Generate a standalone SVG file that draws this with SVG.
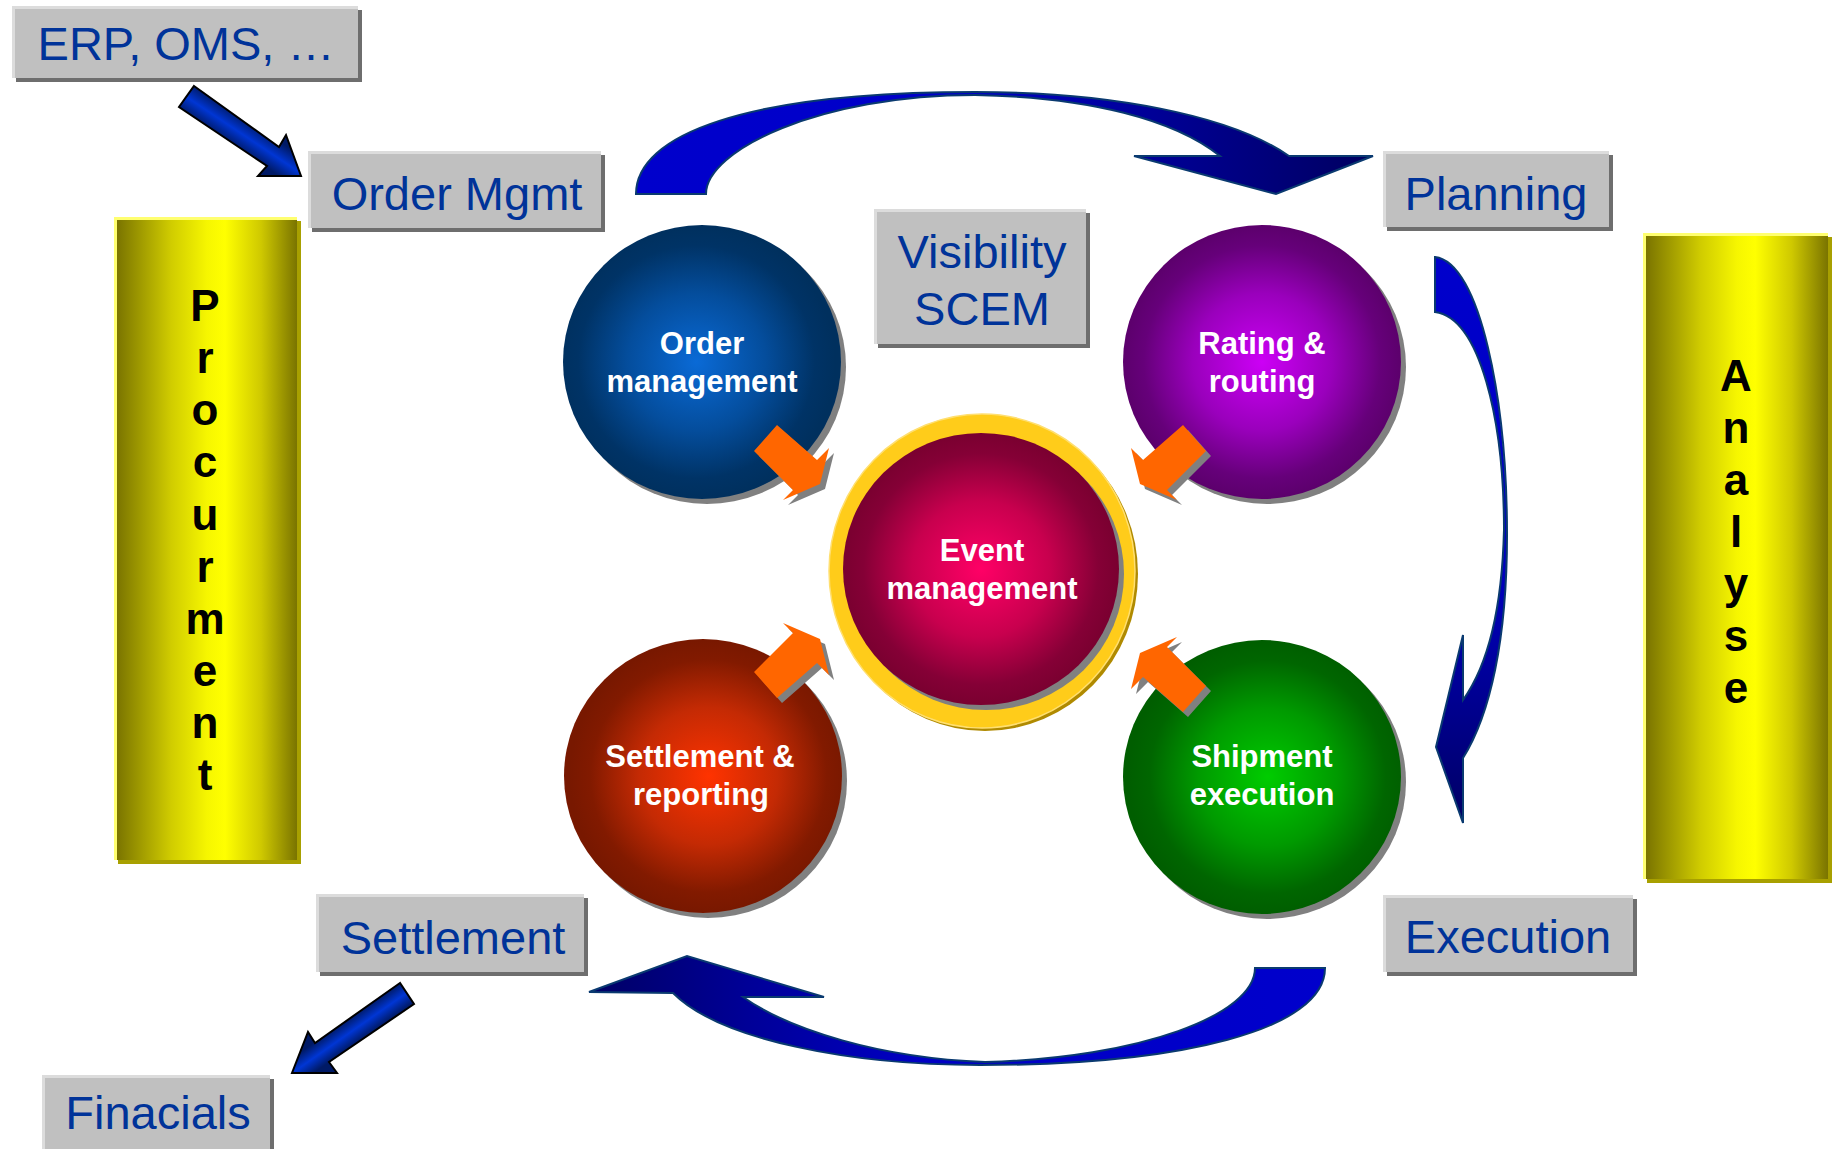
<svg xmlns="http://www.w3.org/2000/svg" width="1839" height="1149" viewBox="0 0 1839 1149">
<defs>
<style>
.bsh{fill:#6e6e6e}
.bhi{fill:#dcdcdc}
.bfc{fill:#c0c0c0}
.btx{font-family:"Liberation Sans",Arial,sans-serif;font-size:47px;fill:#003399;text-anchor:middle}
.ysh{fill:#a8a000}
.yhi{fill:#ffff70}
.ylt{font-family:"Liberation Sans",Arial,sans-serif;font-size:44px;font-weight:bold;fill:#000;text-anchor:middle}
.csh{fill:#808080}
.ctx{font-family:"Liberation Sans",Arial,sans-serif;font-size:31px;font-weight:bold;fill:#fff;text-anchor:middle}
.oar{fill:#ff6600}
.osh{fill:#808080}
.cur{stroke:#0a3a70;stroke-width:2;stroke-linejoin:miter}
.sar{stroke:#000;stroke-width:2;stroke-linejoin:miter}
</style>
<linearGradient id="yg" x1="0" y1="0" x2="1" y2="0">
<stop offset="0" stop-color="#7a7400"/>
<stop offset="0.3" stop-color="#d0cc00"/>
<stop offset="0.5" stop-color="#f6f600"/>
<stop offset="0.6" stop-color="#ffff00"/>
<stop offset="0.8" stop-color="#cfc900"/>
<stop offset="1" stop-color="#7a7400"/>
</linearGradient>
<radialGradient id="gBlue" cx="0.48" cy="0.5" r="0.5">
<stop offset="0" stop-color="#0a6ad6"/>
<stop offset="0.5" stop-color="#044d9c"/>
<stop offset="0.85" stop-color="#003366"/>
<stop offset="1" stop-color="#00305e"/>
</radialGradient>
<radialGradient id="gPurple" cx="0.5" cy="0.5" r="0.5">
<stop offset="0" stop-color="#cc00f5"/>
<stop offset="0.5" stop-color="#9a00bc"/>
<stop offset="0.85" stop-color="#66007a"/>
<stop offset="1" stop-color="#5c006c"/>
</radialGradient>
<radialGradient id="gEvent" cx="0.5" cy="0.5" r="0.5">
<stop offset="0" stop-color="#ff0066"/>
<stop offset="0.5" stop-color="#c8004e"/>
<stop offset="0.85" stop-color="#850036"/>
<stop offset="1" stop-color="#7a0030"/>
</radialGradient>
<radialGradient id="gRed" cx="0.52" cy="0.5" r="0.5">
<stop offset="0" stop-color="#ff3300"/>
<stop offset="0.5" stop-color="#c42a04"/>
<stop offset="0.85" stop-color="#821a00"/>
<stop offset="1" stop-color="#781800"/>
</radialGradient>
<radialGradient id="gGreen" cx="0.52" cy="0.5" r="0.5">
<stop offset="0" stop-color="#00cc00"/>
<stop offset="0.5" stop-color="#009a00"/>
<stop offset="0.85" stop-color="#006600"/>
<stop offset="1" stop-color="#005e00"/>
</radialGradient>
<linearGradient id="gTop" gradientUnits="userSpaceOnUse" x1="636" y1="0" x2="1373" y2="0">
<stop offset="0" stop-color="#0000cc"/>
<stop offset="0.45" stop-color="#0000c8"/>
<stop offset="0.65" stop-color="#0000a0"/>
<stop offset="1" stop-color="#000060"/>
</linearGradient>
<linearGradient id="gRight" gradientUnits="userSpaceOnUse" x1="0" y1="257" x2="0" y2="823">
<stop offset="0" stop-color="#0000cc"/>
<stop offset="0.55" stop-color="#0000c0"/>
<stop offset="1" stop-color="#000064"/>
</linearGradient>
<linearGradient id="gBot" gradientUnits="userSpaceOnUse" x1="1325" y1="0" x2="589" y2="0">
<stop offset="0" stop-color="#0000cc"/>
<stop offset="0.55" stop-color="#0000c4"/>
<stop offset="0.78" stop-color="#000098"/>
<stop offset="1" stop-color="#000064"/>
</linearGradient>
<linearGradient id="gErp" gradientUnits="userSpaceOnUse" x1="225" y1="140" x2="241" y2="116">
<stop offset="0" stop-color="#001a66"/>
<stop offset="0.5" stop-color="#0036d4"/>
<stop offset="1" stop-color="#001a66"/>
</linearGradient>
<linearGradient id="gFin" gradientUnits="userSpaceOnUse" x1="358" y1="1012" x2="372" y2="1032">
<stop offset="0" stop-color="#001a66"/>
<stop offset="0.5" stop-color="#0036d4"/>
<stop offset="1" stop-color="#001a66"/>
</linearGradient>
<polygon id="oa" points="777,425 817,460 829,448 820,484 783,500 793,490 754,451"/>
</defs>
<rect x="0" y="0" width="1839" height="1149" fill="#fff"/>

<!-- side bars -->
<g id="procurement">
<rect class="ysh" x="118" y="221" width="183" height="643"/>
<rect class="yhi" x="114" y="217" width="183" height="643"/>
<rect x="117" y="220" width="180" height="640" fill="url(#yg)"/>
<text class="ylt" x="205" y="321">P</text>
<text class="ylt" x="205" y="373">r</text>
<text class="ylt" x="205" y="425">o</text>
<text class="ylt" x="205" y="477">c</text>
<text class="ylt" x="205" y="530">u</text>
<text class="ylt" x="205" y="582">r</text>
<text class="ylt" x="205" y="634">m</text>
<text class="ylt" x="205" y="686">e</text>
<text class="ylt" x="205" y="738">n</text>
<text class="ylt" x="205" y="790">t</text>
</g>
<g id="analyse">
<rect class="ysh" x="1647" y="237" width="185" height="646"/>
<rect class="yhi" x="1643" y="233" width="185" height="646"/>
<rect x="1646" y="236" width="182" height="643" fill="url(#yg)"/>
<text class="ylt" x="1736" y="391">A</text>
<text class="ylt" x="1736" y="443">n</text>
<text class="ylt" x="1736" y="495">a</text>
<text class="ylt" x="1736" y="547">l</text>
<text class="ylt" x="1736" y="599">y</text>
<text class="ylt" x="1736" y="651">s</text>
<text class="ylt" x="1736" y="703">e</text>
</g>

<!-- label boxes -->
<g id="erp">
<rect class="bsh" x="16" y="10" width="346" height="72"/>
<rect class="bhi" x="12" y="6" width="346" height="72"/>
<rect class="bfc" x="15" y="9" width="343" height="69"/>
<text class="btx" x="186" y="60">ERP, OMS, …</text>
</g>
<g id="ordermgmt">
<rect class="bsh" x="312" y="155" width="293" height="77"/>
<rect class="bhi" x="308" y="151" width="293" height="77"/>
<rect class="bfc" x="311" y="154" width="290" height="74"/>
<text class="btx" x="457" y="210">Order Mgmt</text>
</g>
<g id="planning">
<rect class="bsh" x="1387" y="155" width="226" height="76"/>
<rect class="bhi" x="1383" y="151" width="226" height="76"/>
<rect class="bfc" x="1386" y="154" width="223" height="73"/>
<text class="btx" x="1496" y="210">Planning</text>
</g>
<g id="visibility">
<rect class="bsh" x="878" y="213" width="212" height="135"/>
<rect class="bhi" x="874" y="209" width="212" height="135"/>
<rect class="bfc" x="877" y="212" width="209" height="132"/>
<text class="btx" x="982" y="268">Visibility</text>
<text class="btx" x="982" y="325">SCEM</text>
</g>
<g id="settlement">
<rect class="bsh" x="320" y="898" width="268" height="78"/>
<rect class="bhi" x="316" y="894" width="268" height="78"/>
<rect class="bfc" x="319" y="897" width="265" height="75"/>
<text class="btx" x="453" y="954">Settlement</text>
</g>
<g id="execution">
<rect class="bsh" x="1387" y="899" width="250" height="77"/>
<rect class="bhi" x="1383" y="895" width="250" height="77"/>
<rect class="bfc" x="1386" y="898" width="247" height="74"/>
<text class="btx" x="1508" y="953">Execution</text>
</g>
<g id="finacials">
<rect class="bsh" x="46" y="1079" width="228" height="90"/>
<rect class="bhi" x="42" y="1075" width="228" height="90"/>
<rect class="bfc" x="45" y="1078" width="225" height="87"/>
<text class="btx" x="158" y="1129">Finacials</text>
</g>

<!-- circles -->
<g id="order-management">
<ellipse class="csh" cx="707" cy="367" rx="139" ry="137"/>
<ellipse cx="702" cy="362" rx="139" ry="137" fill="url(#gBlue)"/>
<text class="ctx" x="702" y="354">Order</text>
<text class="ctx" x="702" y="392">management</text>
</g>
<g id="rating-routing">
<ellipse class="csh" cx="1267" cy="367" rx="139" ry="137"/>
<ellipse cx="1262" cy="362" rx="139" ry="137" fill="url(#gPurple)"/>
<text class="ctx" x="1262" y="354">Rating &amp;</text>
<text class="ctx" x="1262" y="392">routing</text>
</g>
<g id="settlement-reporting">
<ellipse class="csh" cx="708" cy="781" rx="139" ry="137"/>
<ellipse cx="703" cy="776" rx="139" ry="137" fill="url(#gRed)"/>
<text class="ctx" x="700" y="767">Settlement &amp;</text>
<text class="ctx" x="701" y="805">reporting</text>
</g>
<g id="shipment-execution">
<ellipse class="csh" cx="1267" cy="782" rx="139" ry="137"/>
<ellipse cx="1262" cy="777" rx="139" ry="137" fill="url(#gGreen)"/>
<text class="ctx" x="1262" y="767">Shipment</text>
<text class="ctx" x="1262" y="805">execution</text>
</g>
<g id="event-management">
<ellipse cx="985" cy="574" rx="153" ry="157" fill="#b08a00"/>
<ellipse cx="982" cy="571" rx="153" ry="157" fill="#ffcc1a" stroke="#ffdf70" stroke-width="1.5"/>
<ellipse class="csh" cx="986" cy="574" rx="138" ry="136"/>
<ellipse cx="981" cy="569" rx="138" ry="136" fill="url(#gEvent)"/>
<text class="ctx" x="982" y="561">Event</text>
<text class="ctx" x="982" y="599">management</text>
</g>

<!-- connectors -->
<g id="connectors">
<path class="cur" fill="url(#gTop)" d="M636,194 C636,135 745,92 975,92 C1110,92 1230,115 1289,156 L1373,156 L1276,194 L1134,156 L1220,156 C1175,120 1090,97 975,95 C820,95 706,150 706,194 Z"/>
<path class="cur" fill="url(#gRight)" d="M1435,257 C1480,262 1507,400 1507,535 C1507,640 1490,715 1463,758 L1463,823 L1436,747 L1463,635 L1463,700 C1488,665 1502,610 1504,530 C1504,420 1480,318 1435,312 Z"/>
<path class="cur" fill="url(#gBot)" d="M1325,968 C1325,1030 1180,1065 980,1065 C850,1065 720,1040 673,993 L589,992 L687,956 L824,997 L743,997 C790,1030 880,1058 985,1062 C1140,1058 1255,1015 1255,968 Z"/>
<polygon class="sar" fill="url(#gErp)" points="194,86 279,147 286,135 301,176 258,176 267,166 179,107"/>
<polygon class="sar" fill="url(#gFin)" points="400,983 315,1043 308,1032 292,1073 337,1073 329,1062 414,1004"/>
<g id="orange-arrows">
<use href="#oa" class="osh" transform="translate(5,5)"/>
<use href="#oa" class="oar"/>
<use href="#oa" class="osh" transform="translate(5,5) matrix(-1,0,0,1,1960,0)"/>
<use href="#oa" class="oar" transform="matrix(-1,0,0,1,1960,0)"/>
<use href="#oa" class="osh" transform="translate(5,5) matrix(1,0,0,-1,0,1123)"/>
<use href="#oa" class="oar" transform="matrix(1,0,0,-1,0,1123)"/>
<use href="#oa" class="osh" transform="translate(5,5) matrix(-1,0,0,-1,1960,1137)"/>
<use href="#oa" class="oar" transform="matrix(-1,0,0,-1,1960,1137)"/>
</g>
</g>
</svg>
